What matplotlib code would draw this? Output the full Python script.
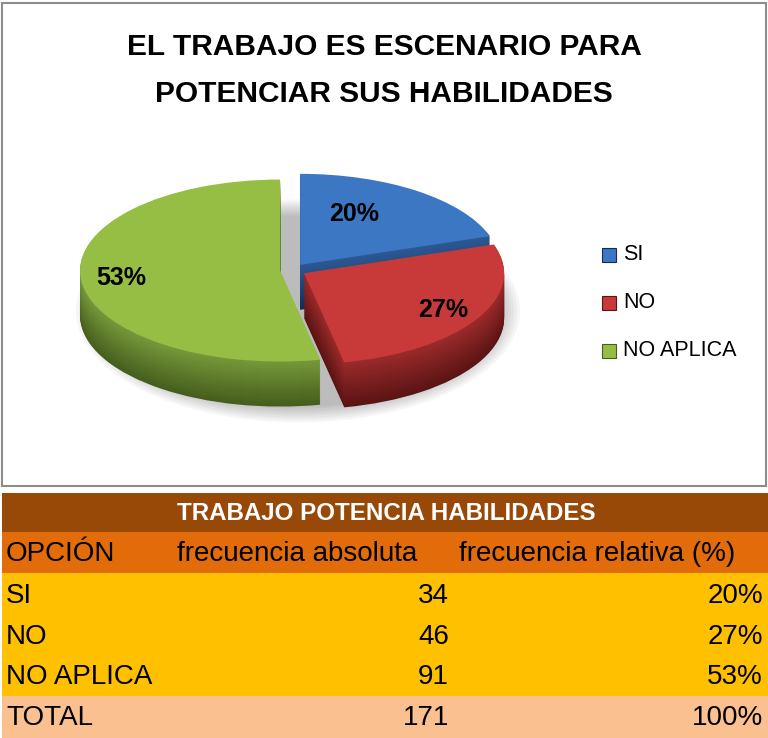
import numpy as np
import matplotlib
matplotlib.use("Agg")
import matplotlib.pyplot as plt
from matplotlib.patches import Rectangle, Ellipse
from matplotlib.colors import to_rgb

# datos de la encuesta
opciones = ["SI", "NO", "NO APLICA"]
frecuencia = [34, 46, 91]
titulo = ["EL TRABAJO ES ESCENARIO PARA", "POTENCIAR SUS HABILIDADES"]
titulo_tabla = "TRABAJO POTENCIA HABILIDADES"
encabezados = ["OPCIÓN", "frecuencia absoluta", "frecuencia relativa (%)"]

total = sum(frecuencia)
porcentajes = [round(100 * f / total) for f in frecuencia]

# colores del pastel (cara superior, costado claro, costado oscuro)
color_cara = ["#3b77c3", "#c83a3a", "#96be45"]
color_lado_claro = ["#2c5a96", "#9c2a2a", "#76993a"]
color_lado_oscuro = ["#142d52", "#5a1414", "#465d1d"]
separacion = [0.07, 0.07, 0.06]

plt.rcParams['font.family'] = ['Liberation Sans', 'DejaVu Sans']

fig = plt.figure(figsize=(7.68, 7.38), dpi=100)

# capa base en pixeles: marco, titulo, leyenda y tabla
base = fig.add_axes([0, 0, 1, 1])
base.set_xlim(0, 768)
base.set_ylim(738, 0)
base.axis('off')

base.add_patch(Rectangle((2, 3), 764, 483, fill=False, edgecolor="#8c8c8c", lw=1.5))
for linea, y in zip(titulo, [47, 94]):
    base.text(384, y, linea, ha='center', va='center', fontsize=21.5, fontweight='bold')

# leyenda
for i, op in enumerate(opciones):
    y = 255 + 48 * i
    base.add_patch(Rectangle((602, y - 7), 14, 14, facecolor=color_cara[i],
                             edgecolor=color_lado_oscuro[i], lw=0.8))
    base.text(623, y, op, ha='left', va='center', fontsize=15.5)

# tabla
bandas = [(493, 532, "#984807"), (532, 573, "#e36c0a"),
          (573, 614, "#ffc000"), (614, 655, "#ffc000"), (655, 696, "#ffc000"),
          (696, 738, "#fac090")]
for y0, y1, c in bandas:
    base.add_patch(Rectangle((2, y0), 766, y1 - y0, facecolor=c, edgecolor='none'))

base.text(386, 514, titulo_tabla, ha='center', va='center', color='white',
          fontsize=17.4, fontweight='bold')
base.text(6, 554, encabezados[0], ha='left', va='center', fontsize=20)
base.text(177, 554, encabezados[1], ha='left', va='center', fontsize=20)
base.text(459, 554, encabezados[2], ha='left', va='center', fontsize=20)

filas = opciones + ["TOTAL"]
abs_col = frecuencia + [total]
rel_col = porcentajes + [sum(porcentajes)]
for i, (op, a, r) in enumerate(zip(filas, abs_col, rel_col)):
    y = 596 + 40.7 * i
    base.text(6, y, op, ha='left', va='center', fontsize=20)
    base.text(449, y, str(a), ha='right', va='center', fontsize=20)
    base.text(763, y, f"{r}%", ha='right', va='center', fontsize=20)

# pastel con efecto 3D: capas apiladas para el costado
ax = fig.add_axes([0, 0, 1, 1])
ax.patch.set_visible(False)
cx, cy = 292, 270
rx, ry = 200, 91
grosor = 45

# sombra difusa bajo el pastel
for k in range(8):
    ax.add_patch(Ellipse((0.03, -0.45), 2.22 - 0.03 * k, 2.45 - 0.05 * k,
                         facecolor='black', alpha=0.035, lw=0))

for k in range(grosor, 0, -1):
    t = k / grosor
    cols = [tuple((1 - t) * np.array(to_rgb(a)) + t * np.array(to_rgb(b)))
            for a, b in zip(color_lado_claro, color_lado_oscuro)]
    ax.pie(frecuencia, explode=separacion, startangle=90, counterclock=False,
           colors=cols, center=(0, -k / ry), wedgeprops=dict(linewidth=0))

wedges, _, etiquetas = ax.pie(frecuencia, explode=separacion, startangle=90,
                              counterclock=False, colors=color_cara,
                              autopct='%1.0f%%', wedgeprops=dict(linewidth=0),
                              textprops=dict(fontsize=18, fontweight='bold'))

dist = [0.62, 0.8, 0.8]
giro = [10, 0, 0]
for w, t, r, g in zip(wedges, etiquetas, dist, giro):
    ang = np.deg2rad((w.theta1 + w.theta2) / 2 + g)
    x0, y0 = w.center
    t.set_position((x0 + r * np.cos(ang), y0 + r * np.sin(ang)))

ax.set_aspect('auto')
ax.set_xlim(-cx / rx, (768 - cx) / rx)
ax.set_ylim(-(738 - cy) / ry, cy / ry)
ax.axis('off')

fig.savefig("out.png", dpi=100)
